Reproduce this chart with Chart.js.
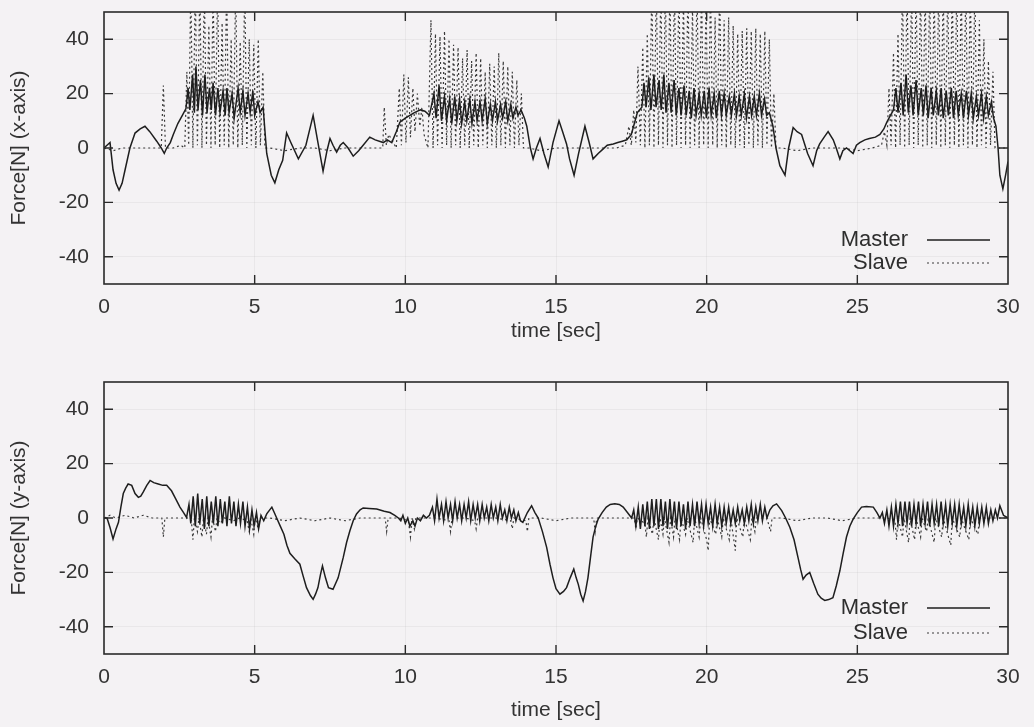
<!DOCTYPE html>
<html>
<head>
<meta charset="utf-8">
<script src="https://cdn.jsdelivr.net/npm/chart.js@4.4.1/dist/chart.umd.min.js"></script>
<style>
  html, body { margin: 0; padding: 0; background: #f4f2f4; }
  #wrap { position: relative; width: 1034px; height: 727px; overflow: hidden; background: #f4f2f4; }
  canvas { position: absolute; left: 0; }
</style>
</head>
<body>
<div id="wrap">
  <canvas id="top" width="1034" height="363" style="top:0;width:1034px;height:363px"></canvas>
  <canvas id="bot" width="1034" height="364" style="top:363px;width:1034px;height:364px"></canvas>
</div>
<script>
// ---------------- data ----------------
const xTicks = [0, 5, 10, 15, 20, 25, 30];
const yTicks = [-40, -20, 0, 20, 40];
const xTitle = 'time [sec]';
const yTitleTop = 'Force[N] (x-axis)';
const yTitleBottom = 'Force[N] (y-axis)';
const seriesNames = ['Master', 'Slave'];

// [time sec, force N]
const masterX = [
 [0,0],[0.1,1],[0.2,2],[0.3,-8],[0.4,-13],[0.5,-15.5],[0.6,-13],[0.7,-8],[0.86,0],[1.03,5.5],[1.2,7],[1.36,8],[1.52,6],[1.75,2.5],[1.9,0],[2.0,-2],[2.08,0],[2.2,2],[2.3,5],[2.45,9],[2.6,12],[2.72,14.5],
 [2.79,22],[2.85,14],[2.94,27],[3.0,13],[3.05,30],[3.12,14],[3.2,25],[3.27,12],[3.35,27],[3.42,13],[3.5,22],[3.56,14],[3.62,24],[3.7,12],[3.78,22],[3.85,13],[3.95,21],[4.02,12],[4.08,22],[4.15,13],[4.25,20],[4.32,11],[4.45,22],[4.52,13],[4.61,21],[4.68,12],[4.78,20],[4.85,13],[4.94,21],[5.0,12],[5.11,17],[5.18,13],[5.28,15],
 [5.4,-2],[5.55,-10],[5.67,-12.8],[5.8,-8],[5.93,-4.5],[6.06,5.5],[6.2,2],[6.45,-4],[6.7,1],[6.94,12],[7.1,2],[7.27,-8.5],[7.4,-1],[7.5,3.5],[7.6,1],[7.72,-1.5],[7.84,1],[7.94,2],[8.1,0],[8.27,-3],[8.45,-1],[8.6,1],[8.82,4],[9.0,3],[9.27,2],[9.4,3],[9.55,2],[9.7,6],[9.82,9.5],[10.0,11],[10.15,12],[10.3,13],[10.5,14],[10.65,13.5],[10.8,12],
 [10.95,20],[11.02,11],[11.12,23],[11.2,10],[11.3,19],[11.37,10],[11.47,18],[11.54,9],[11.64,19],[11.71,10],[11.8,18],[11.87,9],[11.97,17],[12.04,10],[12.14,18],[12.21,9],[12.31,17],[12.38,10],[12.48,17],[12.55,10],[12.65,18],[12.72,9],[12.82,16],[12.89,10],[12.99,17],[13.06,10],[13.16,16],[13.23,11],[13.33,17],[13.4,10],[13.5,16],[13.57,11],[13.67,15],[13.74,12],[13.84,14],[13.95,11],
 [14.03,8],[14.15,0],[14.24,-4],[14.35,0],[14.47,3.5],[14.6,-2],[14.74,-7],[14.9,2],[15.1,10],[15.22,6],[15.35,1.5],[15.45,-4],[15.6,-10],[15.75,-2],[15.96,8],[16.1,2],[16.23,-4],[16.4,-2],[16.55,-0.5],[16.7,1],[16.9,1.5],[17.05,2],[17.2,2.5],[17.35,3],[17.5,5],[17.6,9],[17.7,13],[17.85,15],
 [17.92,24],[17.99,15],[18.08,26],[18.15,14],[18.25,27],[18.32,15],[18.42,25],[18.49,14],[18.58,27],[18.65,13],[18.75,24],[18.82,13],[18.92,25],[18.99,12],[19.08,22],[19.15,12],[19.25,23],[19.32,12],[19.42,21],[19.49,11],[19.58,22],[19.65,12],[19.75,20],[19.82,12],[19.92,21],[19.99,11],[20.08,22],[20.15,12],[20.25,20],[20.32,11],[20.42,21],[20.49,12],[20.58,20],[20.65,12],[20.75,19],[20.82,12],[20.92,20],[20.99,12],[21.08,19],[21.15,12],[21.25,20],[21.32,11],[21.42,19],[21.49,12],[21.58,19],[21.65,12],[21.75,20],[21.82,12],[21.92,18],[21.99,12],[22.08,13],
 [22.2,8],[22.3,0],[22.43,-6.5],[22.6,-10],[22.72,0],[22.87,7.5],[23.0,6],[23.15,5],[23.35,-2],[23.53,-6.5],[23.65,-1],[23.75,1.5],[23.9,4],[24.03,6],[24.2,3],[24.3,0],[24.42,-4],[24.52,-1],[24.64,0],[24.75,-1],[24.86,-2],[24.97,1],[25.08,2],[25.25,3],[25.4,3.5],[25.6,4],[25.75,5],[25.88,7],[25.98,9.5],[26.1,12],[26.2,14],
 [26.28,22],[26.35,13],[26.45,24],[26.52,12],[26.62,27],[26.69,13],[26.78,23],[26.85,12],[26.95,25],[27.02,12],[27.12,22],[27.19,12],[27.28,23],[27.35,11],[27.45,22],[27.52,12],[27.62,21],[27.69,12],[27.78,22],[27.85,11],[27.95,21],[28.02,12],[28.12,22],[28.19,11],[28.28,21],[28.35,12],[28.45,20],[28.52,11],[28.62,21],[28.69,12],[28.78,20],[28.85,11],[28.95,19],[29.02,12],[29.12,20],[29.19,11],[29.28,19],[29.35,12],[29.45,17],[29.52,11],
 [29.6,8],[29.67,0],[29.73,-10],[29.83,-15],[29.92,-10],[30,-5]
];

const slaveX = [
 [0,0],[0.3,-1],[0.6,0],[1.0,0],[1.5,0],[1.9,0],[1.97,23],[2.04,0],[2.3,0],[2.55,1],[2.68,0],
 [2.75,28],[2.81,1],[2.88,60],[2.95,0],[3.03,60],[3.1,1],[3.18,60],[3.25,0],[3.33,60],[3.4,1],[3.48,45],[3.55,0],[3.62,60],[3.69,1],[3.77,60],[3.84,0],[3.92,46],[3.99,1],[4.07,60],[4.14,0],[4.22,40],[4.29,1],[4.37,60],[4.44,0],[4.52,39],[4.59,1],[4.67,60],[4.74,0],[4.82,40],[4.89,1],[4.97,38],[5.04,0],[5.12,40],[5.19,1],[5.27,28],[5.34,0],
 [5.5,0],[6.0,-1],[6.5,0],[7.0,0],[7.5,-1],[8.0,0],[8.5,0],[9.0,0],[9.25,0],[9.3,15],[9.37,1],[9.45,5],[9.6,2],[9.7,0],[9.8,22],[9.87,1],[9.95,27],[10.02,2],[10.1,26],[10.17,4],[10.25,22],[10.32,6],[10.4,20],[10.48,8],[10.55,15],[10.62,5],
 [10.75,0],[10.85,47],[10.92,0],[11.0,42],[11.07,1],[11.15,41],[11.22,0],[11.3,43],[11.37,1],[11.45,40],[11.52,0],[11.6,38],[11.67,1],[11.75,37],[11.82,0],[11.9,33],[11.97,1],[12.05,36],[12.12,0],[12.2,32],[12.27,1],[12.35,35],[12.42,0],[12.5,33],[12.57,1],[12.65,28],[12.72,0],[12.8,31],[12.87,1],[12.95,30],[13.02,0],[13.1,35],[13.17,1],[13.25,32],[13.32,0],[13.4,30],[13.47,1],[13.55,28],[13.62,0],[13.7,25],[13.77,1],[13.85,20],[13.92,0],
 [14.1,0],[14.5,-1],[15.0,0],[15.5,0],[16.0,0],[16.5,0],[17.0,0],[17.3,1],[17.42,8],[17.5,1],[17.58,14],[17.65,2],
 [17.72,30],[17.8,1],[17.88,37],[17.95,0],[18.03,42],[18.1,1],[18.18,60],[18.25,0],[18.33,60],[18.4,1],[18.48,60],[18.55,0],[18.63,60],[18.7,1],[18.78,60],[18.85,0],[18.93,60],[19.0,1],[19.08,60],[19.15,0],[19.23,55],[19.3,1],[19.38,60],[19.45,0],[19.53,52],[19.6,1],[19.68,60],[19.75,0],[19.83,60],[19.9,1],[19.98,55],[20.05,0],[20.13,60],[20.2,1],[20.28,48],[20.35,0],[20.43,60],[20.5,1],[20.58,47],[20.65,0],[20.73,48],[20.8,1],[20.88,45],[20.95,0],[21.03,42],[21.1,1],[21.18,43],[21.25,0],[21.33,44],[21.4,1],[21.48,43],[21.55,0],[21.63,44],[21.7,1],[21.78,42],[21.85,0],[21.93,43],[22.0,1],[22.08,40],[22.15,0],[22.23,20],[22.3,0],
 [22.5,0],[23.0,-1],[23.5,0],[24.0,0],[24.5,0],[25.0,-1],[25.5,0],[25.8,1],[25.9,6],[25.98,1],
 [26.05,22],[26.12,1],[26.2,35],[26.27,0],[26.35,42],[26.42,1],[26.5,60],[26.57,0],[26.65,60],[26.72,1],[26.8,60],[26.87,0],[26.95,60],[27.02,1],[27.1,60],[27.17,0],[27.25,60],[27.32,1],[27.4,60],[27.47,0],[27.55,60],[27.62,1],[27.7,60],[27.77,0],[27.85,60],[27.92,1],[28.0,60],[28.07,0],[28.15,60],[28.22,1],[28.3,60],[28.37,0],[28.45,60],[28.52,1],[28.6,60],[28.67,0],[28.75,60],[28.82,1],[28.9,60],[28.97,0],[29.05,47],[29.12,1],[29.2,40],[29.27,0],[29.35,32],[29.42,1],[29.5,28],[29.57,0],
 [29.7,0],[30,0]
];

const masterY = [
 [0,0],[0.1,0],[0.2,-3.5],[0.3,-7.7],[0.4,-4],[0.48,-1.6],[0.56,4],[0.64,9],[0.72,11],[0.8,12.5],[0.92,12],[1.03,9],[1.14,7.6],[1.22,8],[1.3,9.5],[1.42,12],[1.53,13.8],[1.65,13],[1.8,12.5],[1.95,12],[2.08,12],[2.16,11],[2.24,10],[2.38,7],[2.52,4],[2.64,2],[2.74,0.2],
 [2.82,5],[2.88,-2],[2.96,8],[3.03,-3],[3.11,9],[3.18,-2],[3.26,7],[3.33,-4],[3.41,8],[3.48,-3],[3.56,6],[3.63,-2],[3.71,8],[3.78,-3],[3.86,7],[3.93,-2],[4.01,6],[4.08,-3],[4.16,8],[4.23,-2],[4.31,6],[4.38,-3],[4.46,5],[4.53,-2],[4.61,6],[4.68,-3],[4.76,4],[4.83,-4],[4.91,3],[4.98,-3],[5.06,2],[5.13,-4],[5.21,1],[5.3,-1],
 [5.4,1.5],[5.5,3],[5.57,4],[5.65,2],[5.73,0],[5.85,-3],[5.97,-6],[6.07,-10],[6.17,-13],[6.33,-15],[6.5,-17],[6.6,-21],[6.72,-25.6],[6.85,-28.5],[6.94,-29.9],[7.02,-28],[7.1,-25.6],[7.18,-21],[7.25,-17.6],[7.35,-22],[7.45,-25.6],[7.6,-26.2],[7.77,-22],[7.94,-14.5],[8.05,-9],[8.16,-4.7],[8.27,-1],[8.38,1.5],[8.5,3],[8.6,3.7],[8.8,3.5],[9.05,3.3],[9.3,2.5],[9.49,2],[9.65,1],[9.77,0],
 [9.85,-1],[9.92,1],[10.0,-2],[10.08,0],[10.15,-3],[10.25,-1],[10.32,-3],[10.4,0],[10.5,-1],[10.6,1],[10.7,0],[10.8,1],
 [10.9,4],[10.97,-1],[11.05,7],[11.12,0],[11.2,5],[11.27,-1],[11.35,6],[11.42,0],[11.5,5],[11.57,-1],[11.65,6],[11.72,0],[11.8,5],[11.87,-1],[11.95,5],[12.02,0],[12.1,6],[12.17,-1],[12.25,5],[12.32,0],[12.4,5],[12.47,-1],[12.55,5],[12.62,0],[12.7,4],[12.77,-1],[12.85,5],[12.92,0],[13.0,4],[13.07,-1],[13.15,5],[13.22,0],[13.3,3],[13.37,-1],[13.45,4],[13.52,0],[13.6,3],[13.67,-1],[13.75,2],[13.82,-1],[13.9,-1.6],
 [14.05,2],[14.19,4.5],[14.3,2],[14.41,0],[14.55,-5],[14.69,-10.8],[14.8,-17],[14.9,-22],[15.0,-26],[15.13,-28],[15.25,-27],[15.35,-25.6],[15.47,-22],[15.59,-18.8],[15.67,-22],[15.74,-24.4],[15.82,-28],[15.9,-30.5],[15.98,-27],[16.06,-22],[16.15,-14],[16.23,-7],[16.32,-3],[16.4,-0.4],[16.53,2],[16.67,4],[16.8,5],[16.95,5.2],[17.1,5],[17.23,4],[17.37,2],[17.51,0],
 [17.58,3],[17.65,-3],[17.73,4],[17.8,-4],[17.88,5],[17.95,-3],[18.03,6],[18.1,-4],[18.18,7],[18.25,-3],[18.33,7],[18.4,-4],[18.48,7],[18.55,-3],[18.63,6],[18.7,-4],[18.78,7],[18.85,-3],[18.93,6],[19.0,-4],[19.08,6],[19.15,-3],[19.23,5],[19.3,-4],[19.38,6],[19.45,-3],[19.53,5],[19.6,-3],[19.68,6],[19.75,-2],[19.83,5],[19.9,-3],[19.98,5],[20.05,-2],[20.13,4],[20.2,-3],[20.28,5],[20.35,-2],[20.43,4],[20.5,-3],[20.58,4],[20.65,-2],[20.73,4],[20.8,-2],[20.88,3],[20.95,-2],[21.03,4],[21.1,-1],[21.18,3],[21.25,-2],[21.33,4],[21.4,-1],[21.48,5],[21.55,-2],[21.63,4],[21.7,-1],[21.78,5],[21.85,-1],[21.93,4],[22.0,0],[22.1,3],
 [22.2,4.5],[22.32,5.2],[22.49,2.7],[22.62,0],[22.76,-3.4],[22.9,-8],[23.03,-14.5],[23.12,-19],[23.2,-22.5],[23.3,-21],[23.42,-20],[23.55,-24],[23.69,-28],[23.8,-29.5],[23.92,-30.3],[24.05,-30],[24.19,-29.3],[24.3,-25],[24.42,-19.4],[24.53,-13],[24.64,-7],[24.75,-3],[24.86,-0.4],[25.0,2],[25.14,4],[25.3,4.2],[25.53,4],[25.65,2],[25.75,0],
 [25.83,2],[25.9,-2],[25.98,3],[26.05,-3],[26.13,4],[26.2,-3],[26.28,5],[26.35,-2],[26.43,6],[26.5,-3],[26.58,6],[26.65,-2],[26.73,6],[26.8,-3],[26.88,5],[26.95,-2],[27.03,6],[27.1,-3],[27.18,5],[27.25,-2],[27.33,6],[27.4,-3],[27.48,5],[27.55,-2],[27.63,5],[27.7,-3],[27.78,6],[27.85,-2],[27.93,5],[28.0,-3],[28.08,5],[28.15,-2],[28.23,5],[28.3,-3],[28.38,5],[28.45,-2],[28.53,4],[28.6,-3],[28.68,5],[28.75,-2],[28.83,4],[28.9,-3],[28.98,4],[29.05,-2],[29.13,4],[29.2,-2],[29.28,4],[29.35,-2],[29.43,3],[29.5,-1],[29.58,3],[29.65,0],[29.73,4.5],[29.85,1],[30,0]
];

const slaveY = [
 [0,0],[0.2,1],[0.4,0],[0.7,1],[1.0,0],[1.3,1],[1.6,0],[1.92,0],[1.97,-7],[2.02,0],[2.4,0],[2.8,0],
 [2.9,-1],[2.95,-8],[3.0,0],[3.1,-5],[3.15,0],[3.25,-7],[3.3,0],[3.4,-6],[3.45,0],[3.55,-7],[3.6,0],[3.7,-5],[3.75,0],[3.85,-2],[4.0,0],[4.3,-1],[4.5,0],[4.75,-1],[4.82,-5],[4.87,0],[4.97,-6],[5.02,0],[5.12,-4],[5.17,0],
 [5.5,0],[6.0,-1],[6.5,0],[7.0,-1],[7.5,0],[8.0,-1],[8.5,0],[9.0,0],[9.33,0],[9.38,-5],[9.43,0],[9.8,0],[10.1,-1],[10.17,-7],[10.22,0],[10.3,-4],[10.35,0],[10.6,0],[11.0,0],[11.45,-1],[11.5,-5],[11.55,0],[12.0,0],[12.3,-1],[12.35,-4],[12.4,0],[13.0,0],[13.5,-1],[13.55,-4],[13.6,0],[14.0,-1],[14.05,-5],[14.1,0],[14.5,0],[15.0,-1],[15.5,0],[16.0,0],[16.25,0],[16.3,-5],[16.35,0],[17.0,0],
 [17.6,0],[17.65,-4],[17.7,0],[17.95,-2],[18.0,-7],[18.05,0],[18.2,-6],[18.25,0],[18.4,-8],[18.45,0],[18.55,-6],[18.6,0],[18.75,-9],[18.8,0],[18.9,-7],[18.95,0],[19.1,-8],[19.15,0],[19.3,-6],[19.35,0],[19.55,-9],[19.6,0],[19.75,-7],[19.8,0],[20.0,-8],[20.05,-12],[20.1,0],[20.3,-6],[20.35,0],[20.5,-7],[20.55,0],[20.75,-8],[20.8,0],[20.95,-12],[21.0,0],[21.2,-7],[21.25,0],[21.45,-8],[21.5,0],[21.6,-5],[21.65,0],[22.0,0],[22.12,-5],[22.17,0],
 [22.5,0],[23.0,-1],[23.5,0],[24.0,0],[24.5,-1],[25.0,0],[25.5,0],[26.0,0],
 [26.25,-1],[26.3,-8],[26.35,0],[26.5,-7],[26.55,0],[26.7,-9],[26.75,0],[26.9,-8],[26.95,0],[27.1,-7],[27.15,0],[27.3,-5],[27.35,0],[27.55,-9],[27.6,0],[27.8,-7],[27.85,0],[28.1,-10],[28.15,0],[28.4,-7],[28.45,0],[28.7,-8],[28.75,0],[29.0,-6],[29.05,0],[29.5,0],[30,0]
];

// ---------------- chart construction ----------------
const FONT = '"Liberation Sans", Arial, Helvetica, sans-serif';
const INK = '#2e2e2e';

const framePlugin = {
  id: 'frameAndKey',
  afterDatasetsDraw(chart, args, opts) {
    const {ctx, chartArea: a, scales: {x, y}} = chart;
    ctx.save();
    ctx.strokeStyle = '#2a2a2a';
    ctx.lineWidth = 1.6;
    ctx.strokeRect(a.left, a.top, a.right - a.left, a.bottom - a.top);
    ctx.lineWidth = 1.4;
    ctx.beginPath();
    x.ticks.forEach(t => {
      const px = x.getPixelForValue(t.value);
      if (px <= a.left + 1 || px >= a.right - 1) return;
      ctx.moveTo(px, a.bottom); ctx.lineTo(px, a.bottom - 9);
      ctx.moveTo(px, a.top); ctx.lineTo(px, a.top + 9);
    });
    y.ticks.forEach(t => {
      const py = y.getPixelForValue(t.value);
      ctx.moveTo(a.left, py); ctx.lineTo(a.left + 9, py);
      ctx.moveTo(a.right, py); ctx.lineTo(a.right - 9, py);
    });
    ctx.stroke();
    // key (gnuplot style: text then line sample)
    ctx.font = '22px ' + FONT;
    ctx.textAlign = 'right';
    ctx.textBaseline = 'middle';
    chart.data.datasets.forEach((ds, i) => {
      const yy = a.bottom - opts.keyOffsets[i];
      ctx.fillStyle = INK;
      ctx.fillText(ds.label, a.right - 100, yy);
      ctx.strokeStyle = ds.borderColor;
      ctx.lineWidth = ds.borderWidth;
      ctx.setLineDash(ds.borderDash || []);
      ctx.beginPath();
      ctx.moveTo(a.right - 81, yy);
      ctx.lineTo(a.right - 18, yy);
      ctx.stroke();
      ctx.setLineDash([]);
    });
    ctx.restore();
  }
};

function makeChart(id, master, slave, yTitle, padTop, xAxisHeight, xTitlePad, keyOffsets) {
  return new Chart(document.getElementById(id), {
    type: 'line',
    data: {
      datasets: [
        {
          label: seriesNames[0],
          data: master.map(p => ({x: p[0], y: p[1]})),
          borderColor: '#1e1e1e', borderWidth: 1.5,
          pointRadius: 0, tension: 0, clip: 0, order: 1
        },
        {
          label: seriesNames[1],
          data: slave.map(p => ({x: p[0], y: p[1]})),
          borderColor: '#3a3a3a', borderWidth: 1.2, borderDash: [2, 3],
          pointRadius: 0, tension: 0, clip: 0, order: 2
        }
      ]
    },
    options: {
      responsive: false,
      animation: false,
      events: [],
      layout: { padding: { top: padTop, right: 26, left: 0, bottom: 0 } },
      plugins: {
        legend: { display: false },
        tooltip: { enabled: false },
        frameAndKey: { keyOffsets }
      },
      scales: {
        x: {
          type: 'linear', min: 0, max: 30,
          afterBuildTicks: s => { s.ticks = xTicks.map(v => ({value: v})); },
          afterFit: s => { s.height = xAxisHeight; s.paddingLeft = 0; s.paddingRight = 0; },
          grid: { color: 'rgba(0,0,0,0.045)', lineWidth: 1, drawTicks: false },
          border: { display: false },
          ticks: { padding: 11, color: '#333', font: { family: FONT, size: 21 }, maxRotation: 0 },
          title: { display: true, text: xTitle, color: '#333', font: { family: FONT, size: 21 }, padding: { top: 0, bottom: xTitlePad } }
        },
        y: {
          type: 'linear', min: -50, max: 50,
          afterBuildTicks: s => { s.ticks = yTicks.map(v => ({value: v})); },
          afterFit: s => { s.width = 104; s.paddingTop = 0; s.paddingBottom = 0; },
          grid: { color: 'rgba(0,0,0,0.045)', lineWidth: 1, drawTicks: false },
          border: { display: false },
          ticks: { padding: 15, color: '#333', font: { family: FONT, size: 21 } },
          title: { display: true, text: yTitle, color: '#333', font: { family: FONT, size: 21 }, padding: { top: 7, bottom: 0 } }
        }
      }
    },
    plugins: [framePlugin]
  });
}

makeChart('top', masterX, slaveX, yTitleTop, 12, 79, 19, [44, 21]);
makeChart('bot', masterY, slaveY, yTitleBottom, 19, 73, 4, [46, 21]);
</script>
</body>
</html>
